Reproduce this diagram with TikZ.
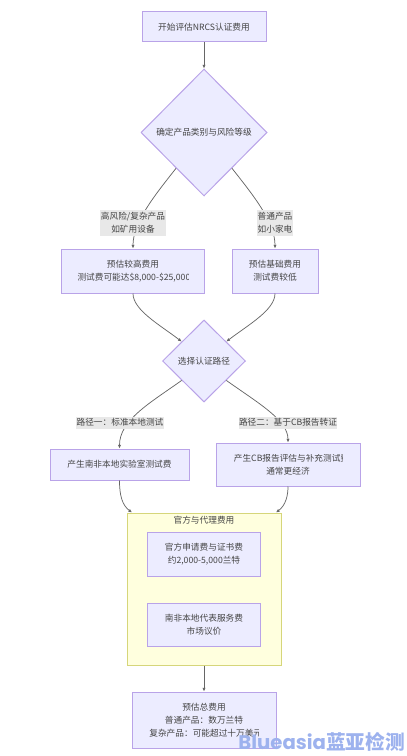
\documentclass[tikz,border=0pt]{standalone}
\usepackage{fontspec}
\usepackage{xcolor}
\usepackage{trimclip}
\setmainfont{Noto Sans CJK SC}
\newfontfamily\markfont{Poppins}
\usetikzlibrary{arrows.meta,shapes.geometric}
\definecolor{nodefill}{HTML}{ECECFF}
\definecolor{nodeline}{HTML}{B9A3E8}
\definecolor{groupfill}{HTML}{FFFFDE}
\definecolor{groupline}{HTML}{D6D67A}
\definecolor{labelfill}{HTML}{E8E8E8}
\definecolor{inktext}{HTML}{444444}
\definecolor{markblue}{HTML}{9DB2EE}
\newcommand{\cuttext}[2]{\clipbox{0 0 #1 0}{#2}}

\begin{document}
\begin{tikzpicture}[
    x=0.3mm, y=-0.3mm,
    every node/.style={text=inktext, font=\fontsize{7.4}{11}\selectfont},
    box/.style={
        rectangle, draw=nodeline, fill=nodefill, line width=0.3mm,
        inner sep=0pt, align=center,
    },
    choice/.style={
        diamond, draw=nodeline, fill=nodefill, line width=0.3mm,
        inner sep=0pt, align=center, aspect=1,
    },
    group/.style={
        rectangle, draw=groupline, fill=groupfill, line width=0.3mm, inner sep=0pt,
    },
    edgelabel/.style={
        rectangle, fill=labelfill, inner sep=0pt, align=center,
    },
    arr/.style={-{Latex[length=1.1mm,width=1mm]}, draw=black!60, line width=0.22mm},
]
\useasboundingbox (0,0) rectangle (406,756);

% Top of the flow
\node[box, minimum width=37.2mm, minimum height=9mm] (start) at (204,27) {开始评估NRCS认证费用};
\node[choice, minimum width=37.8mm, minimum height=38.1mm] (grade) at (204,132.5) {确定产品类别与风险等级};
\node[box, minimum width=42.9mm, minimum height=13.2mm] (high) at (133,271) {预估较高费用\\\cuttext{1.6pt}{测试费可能达\$8,000-\$25,000}};
\node[box, minimum width=25.8mm, minimum height=13.2mm] (basic) at (275,271) {预估基础费用\\测试费较低};

% Second decision
\node[choice, minimum width=24.9mm, minimum height=24.6mm] (route) at (204,361) {选择认证路径};
\node[box, minimum width=41.7mm, minimum height=9.3mm] (local) at (119.5,464.5) {产生南非本地实验室测试费};
\node[box, minimum width=43.2mm, minimum height=12.9mm] (cbrep) at (288,464.5) {\cuttext{6pt}{产生CB报告评估与补充测试费}\\通常更经济};

% Official and agent fees
\node[group, minimum width=46.2mm, minimum height=45.6mm] (fees) at (204,589) {};
\node (feestitle) at (204,520) {官方与代理费用};
\node[box, minimum width=33.9mm, minimum height=13.2mm] (official) at (204,554) {官方申请费与证书费\\约2,000-5,000兰特};
\node[box, minimum width=33.9mm, minimum height=12.9mm] (agent) at (204,624.5) {南非本地代表服务费\\市场议价};

% Total
\node[box, minimum width=43.2mm, minimum height=16.8mm] (total) at (204,720) {预估总费用\\普通产品：数万兰特\\\cuttext{3pt}{复杂产品：可能超过十万美元}};

% Arrows
\draw[arr] (start) -- (grade);
\draw[arr] (grade.-128) .. controls (155,195) and (133,222) .. (high.north);
\draw[arr] (grade.-52) .. controls (253,195) and (275,222) .. (basic.north);
\draw[arr] (high.south) .. controls (133,310) and (160,325) .. (route.139);
\draw[arr] (basic.south) .. controls (275,310) and (248,325) .. (route.41);
\draw[arr] (route.-139) .. controls (150,403) and (119.5,420) .. (local.north);
\draw[arr] (route.-41) .. controls (258,403) and (288,420) .. (cbrep.north);
\draw[arr] (local.south) .. controls (119.5,495) and (122,505) .. (fees.{north west}-|132,513);
\draw[arr] (cbrep.south) .. controls (288,495) and (286,505) .. (fees.{north east}-|276,513);
\draw[arr] (fees) -- (total);

% Labels on the arrows
\node[edgelabel, minimum width=19.8mm, minimum height=7.8mm] (highlabel) at (133,223) {高风险/复杂产品\\如矿用设备};
\node[edgelabel, minimum width=10.8mm, minimum height=7.8mm] (basiclabel) at (275,223) {普通产品\\如小家电};
\node[edgelabel, minimum width=26.4mm, minimum height=3.6mm] (locallabel) at (120,422.5) {路径一：标准本地测试};
\node[edgelabel, minimum width=29.4mm, minimum height=3.6mm] (cblabel) at (288,422.5) {路径二：基于CB报告转证};

% Watermark
\node[anchor=east, inner sep=0pt, text=markblue, font=\fontsize{16.8}{17}\bfseries] (mark) at (405,742) {{\markfont Blueasia}蓝亚检测};
\end{tikzpicture}
\end{document}
